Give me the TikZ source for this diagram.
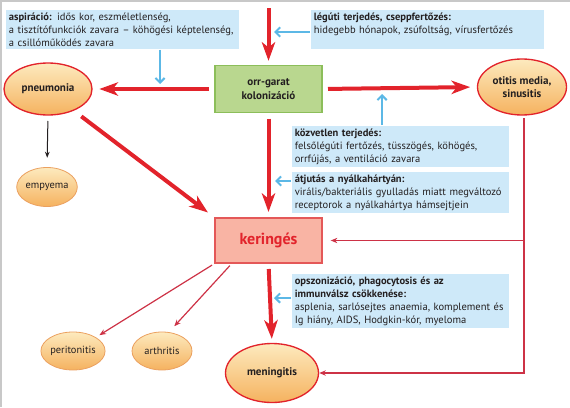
\documentclass[tikz,border=0pt]{standalone}
\usepackage{fontspec}
\setmainfont{PT Sans}
\usetikzlibrary{arrows.meta,shapes.geometric,calc}

\definecolor{kred}{RGB}{226,35,43}
\definecolor{kcrim}{RGB}{205,50,70}
\definecolor{kblue}{RGB}{92,184,230}
\definecolor{kboxblue}{RGB}{206,233,249}
\definecolor{kgreen}{RGB}{185,215,143}
\definecolor{kgreenline}{RGB}{140,190,90}
\definecolor{kpink}{RGB}{249,180,164}
\definecolor{kpinkline}{RGB}{228,88,88}
\definecolor{korange}{RGB}{235,160,95}
\definecolor{kyellow}{RGB}{253,234,190}
\definecolor{kdeep}{RGB}{245,178,95}
\definecolor{ktext}{RGB}{35,31,32}
\definecolor{kgray}{RGB}{200,200,200}

\tikzset{every picture/.style={line width=0.75pt}}

\begin{document}
\begin{tikzpicture}[x=0.75pt,y=0.75pt,yscale=-1,xscale=1,
	bigred/.style={draw=kred, line width=3pt, -{Stealth[length=14pt,width=10pt,inset=4pt]}},
	thinred/.style={draw=kcrim, line width=0.9pt, -{Stealth[length=5pt,width=4pt]}},
	bluearr/.style={draw=kblue, line width=1.5pt, -{Straight Barb[length=3.5pt,width=7pt]}},
	infobox/.style={fill=kboxblue, anchor=north west, align=left, inner xsep=2.5pt, inner ysep=2.2pt, text=ktext, font=\fontsize{7.9}{9.75}\selectfont},
	bigell/.style={ellipse, draw=kred, line width=1pt, top color=kyellow, bottom color=kdeep, inner sep=0pt, align=center, text=ktext, font=\bfseries\fontsize{8.3}{10}\selectfont},
	smallell/.style={ellipse, draw=korange, line width=0.6pt, top color=kyellow, bottom color=kdeep, inner sep=0pt, minimum width=45pt, minimum height=28.5pt, text=ktext, font=\fontsize{7.8}{9}\selectfont}]
	\useasboundingbox (0,0) rectangle (570,407);
	%frame
	\draw [kgray, line width=1pt] (1,407) -- (1,1) -- (570,1) ;
	
	%boxes
	\node [fill=kgreen, draw=kgreenline, line width=1pt, minimum width=80.25pt, minimum height=35.25pt, align=center, text=ktext, font=\bfseries\fontsize{8.3}{10}\selectfont] (kol) at (268.5,89) {orr-garat\\kolonizáció};
	\node [fill=kpink, draw=kpinkline, line width=1pt, minimum width=80.25pt, minimum height=33.75pt, text=kred, font=\bfseries\fontsize{12}{14}\selectfont] (ker) at (268.5,240.5) {keringés};
	
	%ellipses
	\node [bigell, minimum width=66pt, minimum height=39pt] (pneu) at (48,89) {pneumonia};
	\node [bigell, minimum width=66.75pt, minimum height=42pt] (oti) at (522,87) {otitis media,\\sinusitis};
	\node [bigell, minimum width=69.75pt, minimum height=44.25pt] (men) at (272,373) {meningitis};
	\node [smallell, minimum height=29.25pt] (emp) at (47,187) {empyema};
	\node [smallell] (perit) at (73,351) {peritonitis};
	\node [smallell] (arth) at (162,351) {arthritis};
	
	%info boxes
	\node [infobox, text width=169.75pt] (asp) at (5,9) {\textbf{aspiráció:} idős kor, eszméletlenség,\\a tisztítófunkciók zavara -- köhögési képtelenség,\\a csillóműködés zavara};
	\node [infobox, text width=169.75pt] (leg) at (310,9) {\textbf{légúti terjedés, cseppfertőzés:}\\hidegebb hónapok, zsúfoltság, vírusfertőzés\\\mbox{}};
	\node [infobox, text width=157.75pt] (kozv) at (291,125) {\textbf{közvetlen terjedés:}\\felsőlégúti fertőzés, tüsszögés, köhögés,\\orrfújás, a ventiláció zavara};
	\node [infobox, text width=157.75pt] (atj) at (291,171) {\textbf{átjutás a nyálkahártyán:}\\virális/bakteriális gyulladás miatt megváltozó\\receptorok a nyálkahártya hámsejtjein};
	\node [infobox, text width=157.75pt] (opsz) at (291,273) {\textbf{opszonizáció, phagocytosis és az}\\\textbf{immunválsz csökkenése:}\\asplenia, sarlósejtes anaemia, komplement és\\Ig hiány, AIDS, Hodgkin-kór, myeloma};
	
	%main red arrows
	\coordinate (top) at (268.5,8);
	\draw [bigred, shorten >=3pt] (top) -- (kol.north) ;
	\draw [bigred, shorten <=4pt, shorten >=5pt] (kol.west) -- (pneu.east) ;
	\draw [bigred, shorten <=4pt, shorten >=5pt] (kol.east) -- (oti.west) ;
	\draw [bigred, shorten <=4pt, shorten >=4pt] (kol.south) -- (ker.north) ;
	\draw [bigred, shorten <=4pt, shorten >=3pt] (ker.south) -- (men.north) ;
	\draw [bigred, shorten <=7pt, shorten >=6pt] (pneu.-40) -- (ker.north west) ;
	
	%thin arrows
	\draw [draw=ktext, line width=0.75pt, -{Stealth[length=4.5pt,width=3.5pt]}, shorten <=4pt, shorten >=7pt] (pneu.south) -- (emp.north) ;
	\draw [thinred, shorten <=2pt, shorten >=3pt] (ker.south west) -- (perit.north east) ;
	\draw [thinred, shorten <=2pt, shorten >=6pt] ($(ker.south west)!0.16!(ker.south east)$) -- (arth.70) ;
	\coordinate (corner) at ($(oti.south)+(2,0)$);
	\draw [thinred, shorten <=2pt] (corner) |- (men.east) ;
	\draw [thinred, shorten >=6pt] (corner |- ker.east) -- (ker.east) ;
	
	%blue arrows
	\coordinate (aspin) at (160,84);
	\coordinate (legin) at (274,32);
	\coordinate (kozin) at (382,94);
	\coordinate (atjin) at (275,181);
	\coordinate (opszin) at (274,298);
	\draw [bluearr] (asp.south -| aspin) -- (aspin) ;
	\draw [bluearr] (leg.west |- legin) -- (legin) ;
	\draw [bluearr] (kozv.north -| kozin) -- (kozin) ;
	\draw [bluearr] (atj.west |- atjin) -- (atjin) ;
	\draw [bluearr] (opsz.west |- opszin) -- (opszin) ;
	
\end{tikzpicture}
\end{document}
